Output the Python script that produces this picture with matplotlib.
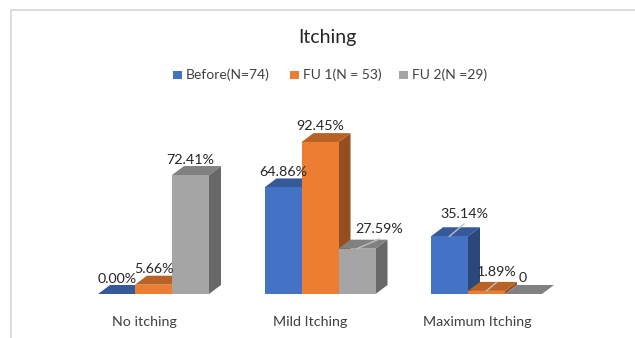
import matplotlib
matplotlib.use("Agg")
import matplotlib.pyplot as plt
from matplotlib.patches import Polygon, Rectangle
from matplotlib.colors import to_rgb

plt.rcParams['font.family'] = ['Lato', 'DejaVu Sans']

categories = ["No itching", "Mild Itching", "Maximum Itching"]
series_names = ["Before(N=74)", "FU 1(N = 53)", "FU 2(N =29)"]
before = [0.00, 64.86, 35.14]
fu1 = [5.66, 92.45, 1.89]
fu2 = [72.41, 27.59, 0]
before_labels = ["0.00%", "64.86%", "35.14%"]
fu1_labels = ["5.66%", "92.45%", "1.89%"]
fu2_labels = ["72.41%", "27.59%", "0"]
colors = ["#4472C4", "#ED7D31", "#A5A5A5"]

W, H = 635, 338


def shade(c, f):
    r, g, b = to_rgb(c)
    return (r * f, g * f, b * f)


fig = plt.figure(figsize=(W / 100, H / 100), dpi=100)
fig.patch.set_facecolor("white")

# axes box in pixels, 1 unit = one group on x, 1 unit = 1% on y
px_x = 166.5
px_y = 1.643
left, base = 70, 294
ax = fig.add_axes([left / W, (H - base) / H, 500 / W, 170 / H])
ax.set_xlim((left - 153.5) / px_x, (left + 500 - 153.5) / px_x)
ax.set_ylim(0, 170 / px_y)
ax.axis("off")

bw = 37 / px_x
dx = 12 / px_x
dy = 9 / px_y
pt = 0.72  # pixels to points

all_vals = [before, fu1, fu2]
all_labels = [before_labels, fu1_labels, fu2_labels]
# label centre relative to the front top centre of each bar, in pixels
offsets = [[(0.5, 15), (0.5, 15.4), (14.5, 22.3)],
           [(0, 15.7), (0.5, 16), (10.5, 18.9)],
           [(0, 15), (22.5, 19.7), (-0.5, 16)]]
# labels moved away from their bar get a thin leader line
leaders = [(0, 2), (1, 2), (2, 1)]

for s, vals in enumerate(all_vals):
    c = colors[s]
    for g, v in enumerate(vals):
        x0 = g + (s - 1.5) * bw
        x1 = x0 + bw
        ax.add_patch(Polygon([(x1, 0), (x1 + dx, dy), (x1 + dx, v + dy), (x1, v)],
                             fc=shade(c, 0.63), ec="none", zorder=2 + s))
        ax.add_patch(Polygon([(x0, v), (x0 + dx, v + dy), (x1 + dx, v + dy), (x1, v)],
                             fc=shade(c, 0.78), ec="none", zorder=2 + s))
        ax.add_patch(Rectangle((x0, 0), bw, v, fc=c, ec="none", zorder=2 + s))
        off = offsets[s][g]
        xc = x0 + bw / 2
        ax.annotate(all_labels[s][g], (xc, v), xytext=(off[0] * pt, off[1] * pt),
                    textcoords="offset points", ha="center", va="center",
                    fontsize=10.3, color="#262626", zorder=10, annotation_clip=False)
        if (s, g) in leaders:
            ax.plot([xc, xc + off[0] / px_x], [v, v + (off[1] - 10) / px_y],
                    color="#BFBFBF", lw=1, zorder=9)

for g, name in enumerate(categories):
    ax.annotate(name, (g, 0), xytext=(-9.5 * pt, -28 * pt), textcoords="offset points",
                ha="center", va="center", fontsize=10.3, color="#404040", annotation_clip=False)

fig.text(327 / W, 1 - 37.5 / H, "Itching", ha="center", va="center", fontsize=14, color="#262626")

legend_x = [173, 290, 399]
for x, name, c in zip(legend_x, series_names, colors):
    fig.add_artist(Rectangle((x / W, 1 - 79 / H), 9 / W, 8.5 / H, fc=c, ec="none",
                             transform=fig.transFigure))
    fig.text((x + 13) / W, 1 - 75 / H, name, ha="left", va="center", fontsize=10, color="#404040")

# chart frame
fig.add_artist(plt.Line2D([10.5 / W, 1], [1 - 10 / H, 1 - 10 / H], color="#DCDCDC", lw=1.4))
fig.add_artist(plt.Line2D([10.5 / W, 10.5 / W], [0, 1 - 10 / H], color="#DCDCDC", lw=1.4))

fig.savefig("out.png", dpi=100)
